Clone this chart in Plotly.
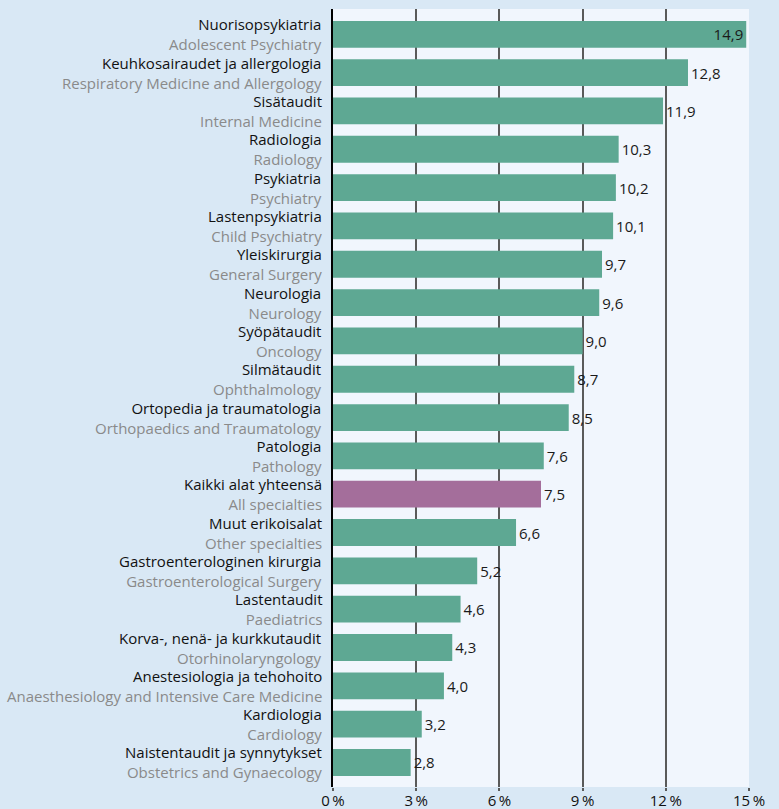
import plotly.graph_objects as go

fi_names = ["Nuorisopsykiatria", "Keuhkosairaudet ja allergologia", "Sisätaudit", "Radiologia",
            "Psykiatria", "Lastenpsykiatria", "Yleiskirurgia", "Neurologia", "Syöpätaudit",
            "Silmätaudit", "Ortopedia ja traumatologia", "Patologia", "Kaikki alat yhteensä",
            "Muut erikoisalat", "Gastroenterologinen kirurgia", "Lastentaudit",
            "Korva-, nenä- ja kurkkutaudit", "Anestesiologia ja tehohoito", "Kardiologia",
            "Naistentaudit ja synnytykset"]
en_names = ["Adolescent Psychiatry", "Respiratory Medicine and Allergology", "Internal Medicine",
            "Radiology", "Psychiatry", "Child Psychiatry", "General Surgery", "Neurology",
            "Oncology", "Ophthalmology", "Orthopaedics and Traumatology", "Pathology",
            "All specialties", "Other specialties", "Gastroenterological Surgery", "Paediatrics",
            "Otorhinolaryngology", "Anaesthesiology and Intensive Care Medicine", "Cardiology",
            "Obstetrics and Gynaecology"]
values = [14.9, 12.8, 11.9, 10.3, 10.2, 10.1, 9.7, 9.6, 9.0, 8.7, 8.5, 7.6, 7.5, 6.6,
          5.2, 4.6, 4.3, 4.0, 3.2, 2.8]
x_ticks = [0, 3, 6, 9, 12, 15]
x_tick_labels = ["0\u2009%", "3\u2009%", "6\u2009%", "9\u2009%", "12\u2009%", "15\u2009%"]

FONT = "Open Sans"
colors = ["#a46e9b" if n == "Kaikki alat yhteensä" else "#5ea893" for n in fi_names]
texts = [f"{v:.1f}".replace(".", ",") for v in values]
positions = ["inside" if v == max(values) else "outside" for v in values]

fig = go.Figure(go.Bar(
    x=values, y=fi_names, orientation="h",
    marker=dict(color=colors, line=dict(width=0)),
    width=0.7,
    text=texts, textposition=positions,
    insidetextanchor="end",
    textfont=dict(family=FONT, size=15, color="#1a1a1a"),
    cliponaxis=False,
))

for fi, en in zip(fi_names, en_names):
    fig.add_annotation(x=0, xref="paper", y=fi, yref="y",
                       text=f"{fi}<br><span style='color:#8a8a8a'>{en}</span>",
                       showarrow=False, align="right",
                       xanchor="right", yanchor="middle", xshift=-9, yshift=0,
                       font=dict(family=FONT, size=15, color="#111111"))

fig.update_layout(
    width=779, height=809,
    margin=dict(l=333, r=30, t=9, b=22, autoexpand=False),
    paper_bgcolor="#d9e8f5",
    plot_bgcolor="#f1f6fd",
    showlegend=False,
    font=dict(family=FONT, size=15, color="#111111"),
)
fig.update_xaxes(
    range=[0, 15], tickvals=x_ticks, ticktext=x_tick_labels,
    showgrid=True, gridcolor="#5a5a5a", gridwidth=1.5,
    zeroline=False, showline=False, automargin=False,
    ticks="outside", ticklen=3, tickcolor="#5a5a5a", tickwidth=1.5,
    ticklabelstandoff=-3,
    tickfont=dict(family=FONT, size=15, color="#111111"),
    fixedrange=True,
)
fig.update_yaxes(
    type="category", range=[19.64, -0.66], automargin=False,
    showgrid=False, zeroline=False,
    showline=True, linecolor="#000000", linewidth=1.5,
    ticks="", showticklabels=False,
)

fig.write_html(
    "out.html",
    config={"displayModeBar": False},
    post_script="document.body.style.margin='0px';document.body.style.padding='0px';document.body.style.overflow='hidden';",
)
